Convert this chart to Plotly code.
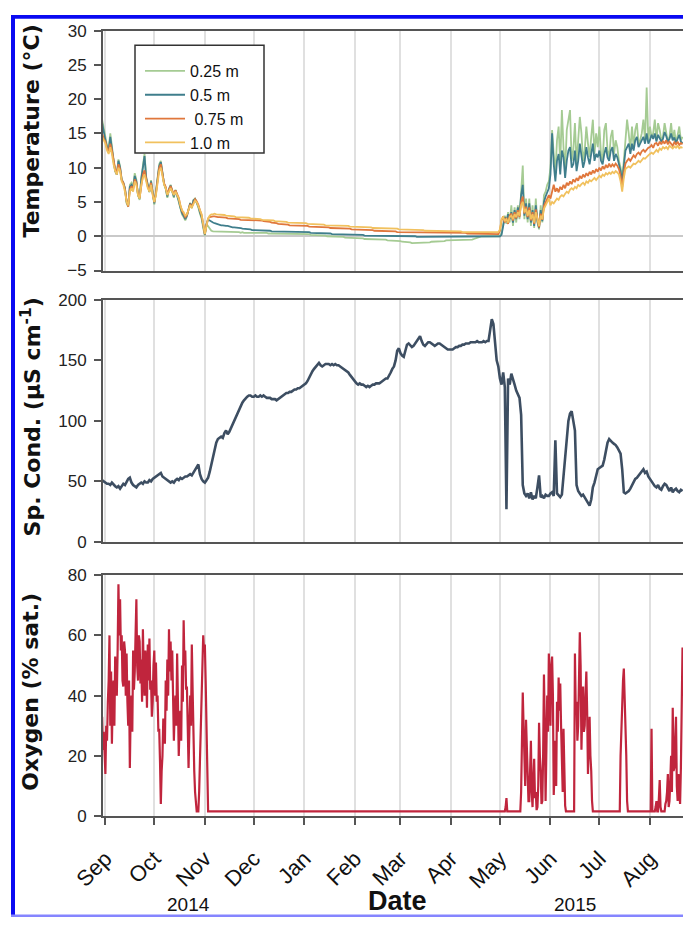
import pandas as pd
import plotly.graph_objects as go

START = "2014-08-30"

# ---------------- Temperature (deg C), daily, 30 Aug 2014 .. 21 Aug 2015 ----------------
temp_025 = [
    17.0, 15.5,
    14.5, 13.2, 12.8, 15.0, 12.8, 11.2, 9.6, 9.0, 11.2, 10.2,
    8.3, 7.8, 7.0, 4.8, 4.3, 7.5, 7.8, 7.2, 9.2, 8.2,
    6.0, 5.3, 8.6, 10.5, 12.0, 8.7, 7.3, 6.4, 8.2, 5.9,
    4.6, 6.6, 8.3, 10.5, 11.0, 8.9, 7.6, 6.9, 5.6, 6.9,
    7.5, 6.5, 5.6, 6.8, 5.9, 5.0, 4.0, 3.2, 2.8, 2.3,
    2.9, 4.1, 4.9, 4.1, 5.3, 5.5, 4.9, 4.2, 3.3, 2.6,
    1.2,
    0.1, 1.8, 1.4, 1.0, 0.8, 0.7, 0.7, 0.7, 0.6, 0.7,
    0.7, 0.6, 0.6, 0.7, 0.6, 0.6, 0.6, 0.6, 0.6, 0.6,
    0.6, 0.6, 0.5, 0.6, 0.5, 0.5, 0.6, 0.5, 0.5, 0.5,
    0.5, 0.5, 0.5, 0.5, 0.5, 0.5, 0.5, 0.5, 0.5, 0.4,
    0.4, 0.4, 0.4, 0.4, 0.4, 0.4, 0.4, 0.4, 0.4, 0.4,
    0.4, 0.4, 0.3, 0.3, 0.3, 0.3, 0.3, 0.3, 0.3, 0.3,
    0.3,
    0.3, 0.3, 0.3, 0.3, 0.2, 0.2, 0.2, 0.2, 0.2, 0.1,
    0.1, 0.1, 0.1, 0.1, 0.0, 0.0, 0.0, 0.0, 0.0, -0.1,
    -0.1, -0.1, -0.1, -0.1, -0.1, -0.2, -0.2, -0.2, -0.2, -0.2,
    -0.2,
    -0.3, -0.3, -0.3, -0.3, -0.3, -0.3, -0.4, -0.4, -0.4, -0.4,
    -0.4, -0.4, -0.4, -0.5, -0.5, -0.5, -0.5, -0.5, -0.5, -0.5,
    -0.6, -0.6, -0.6, -0.6, -0.6, -0.6, -0.7, -0.7,
    -0.7, -0.8, -0.8, -0.8, -0.9, -0.9, -0.9, -1.0, -1.0, -1.0,
    -1.0, -1.0, -1.0, -0.9, -0.9, -0.9, -1.0, -0.9, -0.9, -0.8,
    -0.8, -0.8, -0.8, -0.7, -0.7, -0.7, -0.7, -0.7, -0.6, -0.6,
    -0.6,
    -0.6, -0.6, -0.6, -0.5, -0.5, -0.5, -0.5, -0.5, -0.5, -0.5,
    -0.5, -0.5, -0.5, -0.5, -0.4, -0.3, -0.2, -0.1, -0.1, 0.0,
    0.0, 0.0, 0.0, 0.0, 0.0, 0.0, 0.0, 0.0, 0.0, 0.0,
    0.0, 0.5, 1.8, 3.0, 1.8, 3.5, 2.0, 4.5, 1.5, 4.2,
    2.0, 4.5, 2.5, 6.5, 10.3, 2.5, 5.5, 2.0, 5.5, 1.5,
    4.5, 1.2, 5.5, 2.0, 1.0, 4.5, 2.0, 6.0, 6.5, 7.5,
    8.0,
    10.0, 15.5, 12.0, 9.0, 14.0, 16.0, 10.5, 18.4, 13.0, 9.5,
    15.5, 17.0, 18.4, 11.0, 12.5, 16.5, 10.5, 14.0, 17.4, 15.0,
    11.0, 12.5, 16.0, 13.5, 11.5, 14.5, 17.0, 12.0, 15.0, 13.0,
    16.0, 12.0, 11.0, 15.5, 16.5, 12.5, 11.5, 14.5, 15.5, 12.0,
    14.0, 13.0, 11.0, 10.0, 8.5, 11.0, 14.0, 17.0, 15.0, 12.5,
    16.0, 13.0, 15.5, 16.5, 13.5, 14.0, 15.0, 17.0, 14.0, 21.7,
    14.0,
    16.0, 14.5, 15.0, 17.0, 14.0, 16.5, 15.5, 14.0, 14.5, 16.5,
    15.0, 13.8, 14.5, 16.5, 14.0, 15.5, 13.5, 15.0, 16.0, 14.0,
    14.5,
]

temp_050 = [
    16.5, 15.0,
    14.0, 13.0, 12.5, 14.5, 12.5, 11.0, 9.5, 9.0, 11.0, 10.0,
    8.2, 7.8, 7.0, 5.0, 4.5, 7.2, 7.5, 7.0, 8.8, 8.0,
    6.0, 5.5, 8.3, 10.0, 11.7, 8.5, 7.2, 6.5, 8.0, 6.0,
    4.8, 6.4, 8.0, 10.2, 10.8, 8.8, 7.6, 7.0, 5.8, 6.8,
    7.4, 6.6, 5.8, 6.7, 6.0, 5.2, 4.2, 3.4, 3.0, 2.5,
    3.0, 4.0, 4.8, 4.2, 5.2, 5.4, 5.0, 4.4, 3.5, 2.8,
    1.5,
    0.2, 1.8, 2.4, 2.3, 2.1, 2.0, 1.9, 1.8, 1.8, 1.7,
    1.6, 1.6, 1.5, 1.5, 1.5, 1.4, 1.4, 1.3, 1.3, 1.3,
    1.2, 1.2, 1.2, 1.1, 1.1, 1.1, 1.0, 1.0, 1.0, 0.9,
    0.9, 0.9, 0.9, 0.8, 0.8, 0.8, 0.8, 0.8, 0.8, 0.8,
    0.8, 0.7, 0.7, 0.7, 0.7, 0.7, 0.7, 0.7, 0.7, 0.7,
    0.7, 0.7, 0.6, 0.6, 0.6, 0.6, 0.6, 0.6, 0.6, 0.6,
    0.6,
    0.6, 0.6, 0.6, 0.6, 0.5, 0.5, 0.5, 0.5, 0.5, 0.5,
    0.4, 0.4, 0.4, 0.4, 0.4, 0.4, 0.4, 0.3, 0.3, 0.3,
    0.3, 0.3, 0.3, 0.3, 0.3, 0.3, 0.2, 0.2, 0.2, 0.2,
    0.2,
    0.2, 0.2, 0.2, 0.2, 0.2, 0.2, 0.1, 0.1, 0.1, 0.1,
    0.1, 0.1, 0.1, 0.1, 0.1, 0.1, 0.1, 0.0, 0.0, 0.0,
    0.0, 0.0, 0.0, 0.0, 0.0, 0.0, 0.0, 0.0,
    0.0, 0.0, 0.0, 0.0, 0.0, 0.0, 0.0, 0.0, 0.0, 0.0,
    -0.1, -0.1, -0.1, -0.1, -0.1, -0.1, -0.1, -0.1, -0.1, -0.1,
    -0.1, -0.1, -0.1, -0.1, -0.1, -0.1, -0.1, -0.1, -0.1, -0.1,
    -0.1,
    -0.1, -0.1, -0.1, -0.1, -0.1, -0.1, -0.1, -0.1, -0.1, -0.1,
    -0.1, -0.1, -0.1, -0.1, -0.1, -0.1, -0.1, -0.1, -0.1, -0.1,
    0.0, 0.0, 0.0, 0.0, 0.0, 0.0, 0.0, 0.0, 0.0, 0.0,
    0.0, 0.2, 1.5, 2.8, 2.2, 3.2, 2.5, 3.5, 2.0, 3.8,
    2.5, 4.2, 3.0, 6.0, 7.5, 3.0, 4.8, 2.5, 4.8, 2.0,
    3.8, 1.5, 4.5, 2.2, 1.2, 3.8, 2.2, 5.0, 5.8, 6.5,
    7.0,
    9.0, 15.0, 10.5, 8.0, 11.0, 12.0, 9.0, 12.5, 11.5, 8.5,
    11.0, 12.5, 13.0, 10.0, 10.5, 12.5, 9.5, 11.0, 13.5, 12.0,
    10.0, 11.0, 13.0, 11.5, 10.5, 12.0, 13.5, 11.0, 12.0, 11.5,
    12.5, 11.0, 10.5, 12.0, 13.0, 11.5, 11.0, 12.5, 13.0, 11.0,
    12.0, 11.5, 10.5, 9.5, 8.0, 10.0, 12.5, 13.0, 13.5, 12.0,
    13.5, 12.5, 14.0, 14.5, 13.0, 13.5, 14.0, 14.5, 13.5, 15.0,
    13.5,
    14.0, 14.8, 14.2, 15.0, 13.8, 14.8, 14.4, 13.8, 14.2, 15.2,
    14.6, 13.8, 14.2, 15.0, 14.0, 14.4, 13.6, 14.2, 14.8, 13.8,
    13.6,
]

temp_075 = [
    15.0, 14.2,
    13.8, 12.8, 12.4, 13.5, 12.5, 11.0, 9.8, 9.2, 10.5, 9.8,
    8.2, 7.8, 6.8, 5.2, 4.3, 6.8, 7.3, 6.8, 8.3, 7.8,
    6.2, 5.6, 7.8, 9.0, 9.6, 8.3, 7.2, 6.7, 7.8, 6.2,
    5.0, 6.2, 7.8, 10.0, 10.5, 8.8, 7.7, 7.2, 6.1, 6.8,
    7.3, 6.7, 6.1, 6.7, 6.2, 5.6, 4.5, 3.7, 3.3, 2.8,
    3.1, 3.9, 4.7, 4.3, 5.0, 5.4, 5.1, 4.6, 3.8, 3.1,
    1.8,
    0.3, 1.6, 2.6, 2.8, 2.9, 2.9, 2.9, 2.8, 2.8, 2.8,
    2.8, 2.7, 2.7, 2.7, 2.6, 2.6, 2.6, 2.5, 2.5, 2.5,
    2.5, 2.5, 2.4, 2.4, 2.4, 2.4, 2.4, 2.4, 2.4, 2.4,
    2.4, 2.4, 2.3, 2.3, 2.3, 2.3, 2.2, 2.2, 2.2, 2.1,
    2.1, 2.0, 2.0, 1.9, 1.9, 1.8, 1.8, 1.8, 1.7, 1.7,
    1.7, 1.7, 1.6, 1.6, 1.6, 1.6, 1.6, 1.5, 1.5, 1.5,
    1.5,
    1.5, 1.5, 1.5, 1.4, 1.4, 1.4, 1.4, 1.4, 1.4, 1.3,
    1.3, 1.3, 1.3, 1.3, 1.3, 1.3, 1.2, 1.2, 1.2, 1.2,
    1.2, 1.2, 1.2, 1.1, 1.1, 1.1, 1.1, 1.1, 1.1, 1.0,
    1.0,
    1.0, 1.0, 1.0, 1.0, 1.0, 0.9, 0.9, 0.9, 0.9, 0.9,
    0.9, 0.9, 0.8, 0.8, 0.8, 0.8, 0.8, 0.8, 0.8, 0.7,
    0.7, 0.7, 0.7, 0.7, 0.7, 0.7, 0.6, 0.6,
    0.6, 0.6, 0.6, 0.6, 0.6, 0.6, 0.6, 0.6, 0.6, 0.6,
    0.6, 0.6, 0.6, 0.6, 0.6, 0.5, 0.5, 0.5, 0.5, 0.5,
    0.5, 0.5, 0.5, 0.5, 0.5, 0.5, 0.5, 0.5, 0.5, 0.5,
    0.5,
    0.5, 0.5, 0.5, 0.5, 0.5, 0.5, 0.5, 0.5, 0.5, 0.5,
    0.4, 0.4, 0.4, 0.4, 0.4, 0.4, 0.4, 0.4, 0.4, 0.4,
    0.4, 0.4, 0.4, 0.4, 0.4, 0.3, 0.3, 0.3, 0.3, 0.3,
    0.8, 2.3, 2.9, 2.0, 2.7, 1.8, 3.0, 3.3, 2.3, 3.5,
    2.6, 3.8, 2.8, 5.0, 5.8, 3.3, 4.3, 2.8, 4.2, 2.3,
    3.5, 1.8, 3.9, 2.4, 1.3, 3.3, 2.4, 4.4, 5.0, 5.6,
    6.0,
    5.5, 6.5, 7.5, 6.5, 7.0, 6.4, 7.2, 6.8, 7.5, 7.0,
    7.8, 7.4, 8.0, 7.6, 8.3, 7.9, 8.5, 8.1, 8.8, 8.4,
    9.0, 8.6, 9.2, 8.8, 9.4, 9.0, 9.6, 9.2, 9.8, 9.4,
    10.0, 9.6, 10.2, 9.8, 10.4, 10.0, 10.6, 10.1, 10.5, 10.2,
    10.6, 10.3, 9.8, 8.8, 7.2, 9.2, 10.6, 11.0, 11.3, 11.0,
    11.5, 11.8, 11.5, 12.0, 12.2, 11.9, 12.4, 12.6, 12.3, 12.7,
    12.9,
    13.0, 13.3, 12.9, 13.5, 13.6, 13.2, 13.8, 13.4, 13.9, 13.5,
    14.0, 13.4, 13.8, 13.5, 13.2, 13.7, 13.4, 13.8, 13.3, 13.6,
    13.4,
]

temp_100 = [
    14.5, 14.0,
    13.5, 12.5, 12.0, 13.0, 12.0, 10.5, 9.5, 9.0, 10.0, 9.5,
    8.0, 7.5, 6.5, 5.0, 4.5, 6.5, 7.0, 6.5, 8.0, 7.5,
    6.0, 5.5, 7.5, 8.5, 9.0, 8.0, 7.0, 6.5, 7.5, 6.0,
    5.0, 6.0, 7.5, 9.5, 10.0, 8.5, 7.5, 7.0, 6.0, 6.5,
    7.0, 6.5, 6.0, 6.5, 6.0, 5.5, 4.5, 3.8, 3.5, 3.0,
    3.2, 3.8, 4.5, 4.2, 4.8, 5.2, 5.0, 4.5, 3.8, 3.2,
    2.0,
    0.3, 1.5, 2.6, 3.0, 3.2, 3.2, 3.3, 3.2, 3.2, 3.1,
    3.2, 3.1, 3.1, 3.0, 3.0, 3.0, 2.9, 2.9, 2.9, 2.8,
    2.8, 2.8, 2.8, 2.7, 2.7, 2.7, 2.7, 2.7, 2.6, 2.6,
    2.6, 2.6, 2.5, 2.5, 2.5, 2.4, 2.4, 2.4, 2.4, 2.3,
    2.3, 2.3, 2.3, 2.2, 2.2, 2.2, 2.2, 2.1, 2.1, 2.1,
    2.1, 2.0, 2.0, 2.0, 2.0, 2.0, 1.9, 1.9, 1.9, 1.9,
    1.9,
    1.9, 1.9, 1.8, 1.8, 1.8, 1.8, 1.8, 1.7, 1.7, 1.7,
    1.7, 1.7, 1.7, 1.6, 1.6, 1.6, 1.6, 1.6, 1.6, 1.6,
    1.5, 1.5, 1.5, 1.5, 1.5, 1.5, 1.5, 1.5, 1.4, 1.4,
    1.4,
    1.4, 1.4, 1.4, 1.4, 1.3, 1.3, 1.3, 1.3, 1.3, 1.3,
    1.3, 1.2, 1.2, 1.2, 1.2, 1.2, 1.2, 1.2, 1.2, 1.1,
    1.1, 1.1, 1.1, 1.1, 1.1, 1.1, 1.1, 1.0,
    1.0, 1.0, 1.0, 1.0, 1.0, 1.0, 0.9, 0.9, 0.9, 0.9,
    0.9, 0.9, 0.9, 0.9, 0.9, 0.8, 0.8, 0.8, 0.8, 0.8,
    0.8, 0.8, 0.8, 0.8, 0.8, 0.8, 0.7, 0.7, 0.7, 0.7,
    0.7,
    0.7, 0.7, 0.7, 0.7, 0.7, 0.7, 0.7, 0.6, 0.6, 0.6,
    0.6, 0.6, 0.6, 0.6, 0.6, 0.6, 0.6, 0.6, 0.6, 0.6,
    0.5, 0.5, 0.5, 0.5, 0.5, 0.5, 0.5, 0.5, 0.5, 0.6,
    1.0, 2.5, 2.8, 2.2, 2.5, 2.0, 2.8, 3.0, 2.5, 3.2,
    2.8, 3.5, 3.0, 4.5, 5.0, 3.5, 4.0, 3.0, 3.8, 2.5,
    3.2, 2.0, 3.5, 2.5, 1.5, 3.0, 2.5, 4.0, 4.5, 5.0,
    5.5,
    4.5, 5.0, 4.8, 5.2, 5.5, 5.3, 5.8, 6.0, 5.8, 6.2,
    6.5, 6.3, 6.8, 7.0, 6.8, 7.2, 7.0, 7.5, 7.3, 7.6,
    7.8, 7.5, 8.0, 7.8, 8.2, 8.0, 8.3, 8.5, 8.2, 8.6,
    8.8, 8.6, 9.0, 8.8, 9.2, 9.0, 9.3, 9.1, 9.4, 9.2,
    9.5, 9.3, 9.0, 8.0, 6.5, 8.5, 9.8, 10.0, 10.2, 10.0,
    10.4, 10.6, 10.5, 10.8, 11.0, 10.8, 11.2, 11.4, 11.3, 11.6,
    11.8,
    12.0, 12.2, 12.0, 12.4, 12.6, 12.3, 12.8, 12.6, 13.0, 12.8,
    13.0, 12.7, 13.2, 13.0, 12.8, 13.1, 12.9, 13.2, 12.8, 13.0,
    12.9,
]

# ---------------- Specific conductance (uS/cm), daily ----------------
cond = [
    51, 50,
    49, 48, 48, 47, 49, 47, 46, 45, 46, 44,
    46, 48, 47, 50, 52, 53, 49, 47, 46, 45,
    47, 48, 49, 48, 50, 49, 49, 51, 50, 52,
    53, 54, 55, 56, 57, 54, 53, 52, 51, 50,
    49, 50, 49, 51, 52, 51, 53, 52, 53, 54,
    54, 55, 56, 55, 57, 59, 62, 64, 56, 52,
    50,
    49, 51, 53, 58, 64, 69, 76, 82, 85, 86,
    87, 86, 90, 92, 89, 91, 94, 98, 100, 103,
    106, 110, 113, 115, 117, 119, 120, 121, 121, 120,
    120, 121, 120, 120, 121, 120, 121, 120, 119, 119,
    119, 118, 118, 118, 117, 118, 119, 120, 121, 122,
    123, 123, 124, 124, 125, 126, 126, 127, 127, 128,
    129,
    130, 131, 133, 136, 139, 141, 143, 145, 147, 148,
    146, 145, 146, 147, 147, 147, 146, 147, 146, 147,
    146, 146, 145, 144, 143, 142, 141, 140, 138, 136,
    134,
    132, 131, 130, 131, 130, 130, 129, 128, 129, 128,
    129, 130, 130, 131, 131, 131, 132, 133, 134, 135,
    135, 137, 140, 143, 145, 150, 158, 160,
    156, 154, 153, 158, 163, 164, 162, 161, 162, 164,
    166, 168, 170, 166, 163, 162, 164, 165, 165, 164,
    163, 162, 163, 164, 164, 163, 162, 161, 160, 159,
    159,
    159, 159, 160, 161, 161, 162, 162, 163, 163, 164,
    164, 164, 165, 165, 165, 165, 166, 165, 165, 165,
    166, 165, 166, 166, 175, 184, 180, 165, 150, 145,
    135, 130, 140, 128, 27, 135, 130, 139, 135, 130,
    125, 122, 119, 105, 47, 40, 38, 40, 36, 41,
    35, 38, 36, 45, 55, 37, 38, 36, 39, 38,
    38,
    40, 41, 38, 84, 40, 38, 37, 39, 55, 73,
    90, 100, 106, 108, 100, 92, 47, 42, 40, 38,
    39, 37, 35, 32, 30, 35, 45, 49, 55, 60,
    61, 62, 63, 68, 75, 82, 85, 83, 82, 81,
    80, 78, 76, 73, 60, 41, 40, 41, 42, 44,
    47, 50, 52, 53, 55, 57, 58, 60, 57, 58,
    54,
    52, 49, 48, 46, 45, 47, 44, 43, 46, 48,
    47, 44, 42, 45, 41, 43, 44, 42, 41, 43,
    42,
]

# ---------------- Dissolved oxygen (% saturation) ----------------
# autumn 2014: twice daily (00 h, 12 h) from 30 Aug 2014
OXY_AUT_START = "2014-08-30 00:00"
oxygen_autumn = [
    33, 22, 28, 20,
    14, 30, 25, 38, 45, 60, 30, 48, 24, 40, 45, 30, 53, 42, 40, 55,
    77, 60, 72, 55, 60, 45, 43, 58, 55, 40, 54, 38, 30, 45, 16, 35,
    40, 28, 55, 42, 48, 60, 72, 50, 45, 60, 58, 44, 52, 38, 62, 48,
    40, 55, 50, 36, 57, 45, 59, 42, 45, 33, 38, 50,
    55, 40, 51, 38, 40, 28, 29, 18, 4, 15, 20, 32, 32, 24, 45, 35,
    52, 40, 62, 48, 58, 45, 55, 40, 25, 35, 40, 30, 54, 38, 20, 30,
    35, 25, 50, 38, 65, 50, 55, 42, 43, 30, 16, 28, 40, 30, 57, 42,
    25, 15, 8, 3, 1.6, 1.6, 1.6, 8, 20, 35, 45, 52, 60, 55,
    57, 45, 30, 10, 1.6, 1.6,
]
# winter 2014-15: sensor reading flat near zero
oxy_winter_dates = ["2014-11-03", "2015-04-30"]
oxygen_winter = [1.6, 1.6]
# summer 2015: twice daily from 1 May 2015
OXY_SUM_START = "2015-05-01 00:00"
oxygen_summer = [
    1.6, 1.6, 1.6, 1.6, 1.6, 1.6, 1.6, 3, 6, 1.6,
    1.6, 1.6, 1.6, 1.6, 1.6, 1.6, 1.6, 1.6, 1.6, 1.6,
    1.6, 1.6, 1.6, 1.6, 1.6, 1.6,
    8, 20, 41, 30, 21, 10, 32, 24, 12, 5, 5, 15, 25, 8, 3, 12,
    19, 6, 8, 2, 3, 10, 31, 20, 15, 4, 5, 20, 47, 30, 5, 22,
    40, 28, 54, 45,
    30, 50, 53, 40, 7, 15, 25, 10, 38, 28, 46, 35, 44, 30, 20, 8,
    29, 15, 3.5, 1.6,
    1.6, 1.6, 1.6, 1.6, 1.6, 1.6, 1.6, 1.6, 1.6, 1.6,
    54, 35, 38, 25, 30, 45, 61, 50, 22, 35, 43, 28, 30, 40, 48, 35,
    14, 25, 33, 20, 15, 5,
    1.6, 1.6, 1.6, 1.6, 1.6, 1.6, 1.6, 1.6, 1.6, 1.6,
    1.6, 1.6, 1.6, 1.6, 1.6, 1.6, 1.6, 1.6, 1.6, 1.6,
    1.6, 1.6, 1.6, 1.6, 1.6, 1.6, 1.6, 1.6, 1.6, 1.6,
    1.6, 1.6, 1.6, 1.6,
    20, 30, 38, 45, 49, 40, 32, 20, 5, 1.6,
    1.6, 1.6, 1.6, 1.6, 1.6, 1.6, 1.6, 1.6, 1.6, 1.6,
    1.6, 1.6, 1.6, 1.6, 1.6, 1.6, 1.6, 1.6, 1.6, 1.6,
    1.6, 1.6, 1.6, 1.6, 1.6, 1.6,
    1.6, 1.6, 29, 1.6, 1.6, 1.6, 1.6, 3, 5, 1.6,
    1.6, 6, 12, 3, 1.6, 1.6, 1.6, 1.6, 1.6, 4,
    5, 8, 14, 3, 5, 12, 20, 8, 36, 15,
    16, 25, 33, 10, 5, 14, 10, 4, 16, 30,
    56, 40,
]

depth_names = ["0.25 m", "0.5 m", "\u00a00.75 m", "1.0 m"]
depth_colors = ["#a5cb93", "#3f7e8c", "#e0773c", "#f1c15e"]
cond_color = "#3d4e62"
oxy_color = "#c0253d"

year_labels = ["2014", "2015"]
temp_ticks = [-5, 0, 5, 10, 15, 20, 25, 30]
cond_ticks = [0, 50, 100, 150, 200]
oxy_ticks = [0, 20, 40, 60, 80]

# ---------------- layout helpers (pixel -> paper) ----------------
W, H = 683, 927
ML = 103
PW = W - ML


def px(x):
    return (x - ML) / PW


def py(y):
    return 1 - y / H


fig = go.Figure()

for vals, name, col in zip([temp_025, temp_050, temp_075, temp_100], depth_names, depth_colors):
    fig.add_trace(go.Scatter(
        x=pd.date_range(START, periods=len(vals), freq="D"), y=vals,
        mode="lines", name=name, line=dict(color=col, width=1.8),
        xaxis="x", yaxis="y"))

fig.add_trace(go.Scatter(
    x=pd.date_range(START, periods=len(cond), freq="D"), y=cond,
    mode="lines", showlegend=False, line=dict(color=cond_color, width=2.6),
    xaxis="x2", yaxis="y2"))

oxy_x = (list(pd.date_range(OXY_AUT_START, periods=len(oxygen_autumn), freq="12h"))
         + list(pd.to_datetime(oxy_winter_dates))
         + list(pd.date_range(OXY_SUM_START, periods=len(oxygen_summer), freq="12h")))
oxy_y = oxygen_autumn + oxygen_winter + oxygen_summer
fig.add_trace(go.Scatter(
    x=oxy_x, y=oxy_y,
    mode="lines", showlegend=False, line=dict(color=oxy_color, width=2.2),
    xaxis="x3", yaxis="y3"))

xr = ["2014-08-30 12:40", "2015-08-21 07:00"]
tickfont = dict(family="Liberation Sans, Arial, sans-serif", size=17, color="#222")
axis_line = dict(showline=True, linecolor="#555", linewidth=2)

common_x = dict(type="date", range=xr, tick0="2014-09-01", dtick="M1",
                showgrid=True, gridcolor="#e0e0e0", gridwidth=1.5,
                zeroline=False, mirror=True, **axis_line)

fig.update_layout(
    width=W, height=H,
    margin=dict(l=ML, r=0, t=0, b=0),
    paper_bgcolor="white", plot_bgcolor="white",
    xaxis=dict(domain=[0, 1], anchor="y", showticklabels=False, ticks="", **common_x),
    xaxis2=dict(domain=[0, 1], anchor="y2", showticklabels=False, ticks="", **common_x),
    xaxis3=dict(domain=[0, 1], anchor="y3", showticklabels=True, ticks="outside",
                ticklen=7, tickwidth=2, tickcolor="#555", tickformat="%b",
                tickangle=-45, ticklabelstandoff=12,
                tickfont=dict(family="Liberation Sans, Arial, sans-serif", size=22, color="#111"),
                **common_x),
    yaxis=dict(domain=[py(267), py(22)], anchor="x", range=[-5, 30], tickvals=temp_ticks,
               ticks="outside", ticklen=7, tickwidth=1.5, tickcolor="#555",
               showgrid=False, zeroline=True, zerolinecolor="#c9c9c9", zerolinewidth=2,
               tickfont=tickfont, ticklabelstandoff=4, **axis_line),
    yaxis2=dict(domain=[py(544), py(297)], anchor="x2", range=[0, 200], tickvals=cond_ticks,
                ticks="outside", ticklen=7, tickwidth=1.5, tickcolor="#555",
                showgrid=False, zeroline=False, tickfont=tickfont, ticklabelstandoff=4, **axis_line),
    yaxis3=dict(domain=[py(824), py(578)], anchor="x3", range=[0, 80], tickvals=oxy_ticks,
                ticks="outside", ticklen=7, tickwidth=1.5, tickcolor="#555",
                showgrid=False, zeroline=False, tickfont=tickfont, ticklabelstandoff=4, **axis_line),
    legend=dict(x=px(140), y=py(46), xanchor="left", yanchor="top",
                bgcolor="rgba(0,0,0,0)", borderwidth=0, itemwidth=40,
                font=dict(family="Liberation Sans, Arial, sans-serif", size=16, color="#111")),
    showlegend=True,
)

# legend frame
fig.add_shape(type="rect", xref="paper", yref="paper",
              x0=px(135), x1=px(264), y0=py(147), y1=py(37),
              line=dict(color="#333", width=1.5), fillcolor="white", layer="above")

# blue outer frame of the figure picture
blue = "#0a0af2"
fig.add_shape(type="rect", xref="paper", yref="paper", x0=px(11), x1=px(683),
              y0=py(10), y1=py(6), line=dict(width=0), fillcolor=blue, layer="above")
fig.add_shape(type="rect", xref="paper", yref="paper", x0=px(11), x1=px(15),
              y0=py(927), y1=py(6), line=dict(width=0), fillcolor=blue, layer="above")
fig.add_shape(type="rect", xref="paper", yref="paper", x0=px(11), x1=px(683),
              y0=py(927), y1=py(924.5), line=dict(width=0), fillcolor="#8585ff", layer="above")

title_font = dict(family="DejaVu Sans, sans-serif", size=22, color="#111", weight="bold")
for txt, yc in [("Temperature (°C)", 125), ("Sp. Cond. (µS cm<sup>-1</sup>)", 417),
                ("Oxygen (% sat.)", 697)]:
    fig.add_annotation(text=txt, xref="paper", yref="paper", x=px(31), y=py(yc),
                       xanchor="center", yanchor="middle", textangle=-90,
                       showarrow=False, font=title_font)

fig.add_annotation(text=year_labels[0], xref="paper", yref="paper", x=px(188), y=py(914),
                   xanchor="center", yanchor="middle", showarrow=False,
                   font=dict(family="Liberation Sans, Arial, sans-serif", size=19, color="#111"))
fig.add_annotation(text=year_labels[1], xref="paper", yref="paper", x=px(575), y=py(914),
                   xanchor="center", yanchor="middle", showarrow=False,
                   font=dict(family="Liberation Sans, Arial, sans-serif", size=19, color="#111"))
fig.add_annotation(text="Date", xref="paper", yref="paper", x=px(397), y=py(911),
                   xanchor="center", yanchor="middle", showarrow=False,
                   font=dict(family="Liberation Sans, Arial, sans-serif", size=27,
                             color="#111", weight="bold"))

fig.write_html("out.html", config={"displayModeBar": False},
               post_script="document.body.style.margin='0px';")
